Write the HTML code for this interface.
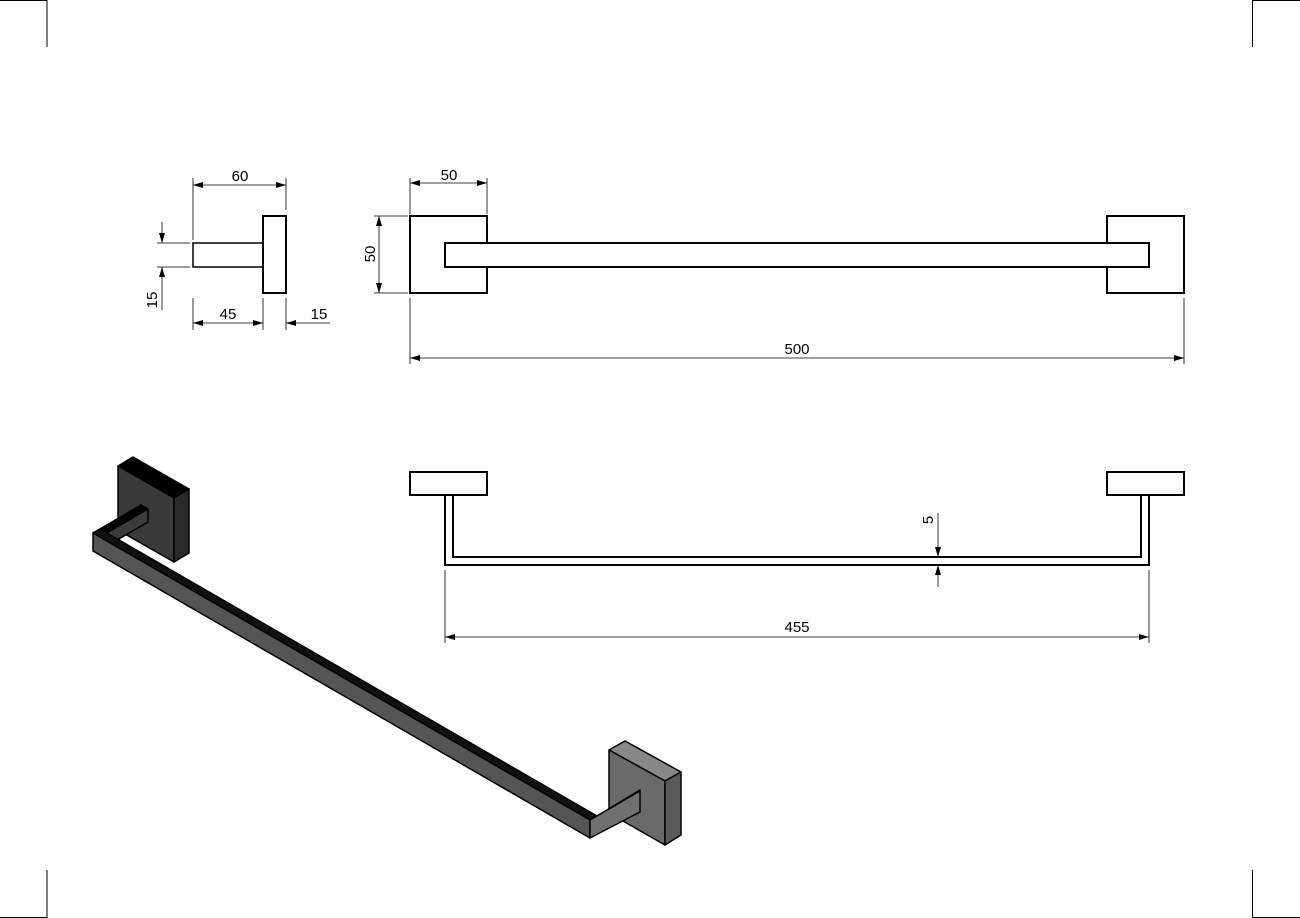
<!DOCTYPE html>
<html><head><style>html,body{margin:0;padding:0;background:#fff}svg{display:block}</style></head>
<body>
<svg width="1300" height="918" viewBox="0 0 1300 918" xmlns="http://www.w3.org/2000/svg" font-family="Liberation Sans, sans-serif">
<defs>
<marker id="a" viewBox="0 0 10 6" refX="10" refY="3" markerWidth="10" markerHeight="6" orient="auto-start-reverse" markerUnits="userSpaceOnUse"><path d="M0,0 L10,3 L0,6 z" fill="#000"/></marker>
</defs>
<g stroke="#000" stroke-width="1" fill="none">
<path d="M0,0.5 H47 M47,0 V47 M1300,0.5 H1252 M1252.5,0 V47 M0,917.5 H47 M47,918 V870 M1300,917.5 H1252 M1252.5,918 V870"/>
</g>
<!-- side view -->
<g stroke="#000" fill="none">
<rect x="193" y="243" width="70" height="24" stroke-width="1.5"/>
<rect x="263" y="216" width="23" height="77" stroke-width="2"/>
<g stroke-width="0.8">
<path d="M193,178 V240 M286,178 V210 M193,298 V330 M263,298 V330 M286,298 V330 M157,243 H190 M157,267 H190"/>
<line x1="193" y1="185" x2="286" y2="185" marker-start="url(#a)" marker-end="url(#a)"/>
<line x1="193" y1="323" x2="263" y2="323" marker-start="url(#a)" marker-end="url(#a)"/>
<line x1="330" y1="323" x2="286" y2="323" marker-end="url(#a)"/>
<line x1="162" y1="222" x2="162" y2="243" marker-end="url(#a)"/>
<line x1="162" y1="310" x2="162" y2="267" marker-end="url(#a)"/>
</g>
</g>
<g font-size="15" fill="#000" text-anchor="middle">
<text x="240" y="181">60</text>
<text x="228" y="319">45</text>
<text x="319" y="319">15</text>
<text transform="translate(157,300) rotate(-90)">15</text>
</g>
<!-- front view -->
<g stroke="#000" fill="none">
<rect x="410" y="216" width="77" height="77" stroke-width="2"/>
<rect x="1107" y="216" width="77" height="77" stroke-width="2"/>
<rect x="445" y="243" width="704" height="24" stroke-width="2" fill="#fff"/>
<g stroke-width="0.8">
<path d="M410,178 V214 M487,178 V214 M374,216 H408 M374,293 H408 M410,298 V364 M1184,298 V364"/>
<line x1="410" y1="183" x2="487" y2="183" marker-start="url(#a)" marker-end="url(#a)"/>
<line x1="379" y1="216" x2="379" y2="293" marker-start="url(#a)" marker-end="url(#a)"/>
<line x1="410" y1="358" x2="1184" y2="358" marker-start="url(#a)" marker-end="url(#a)"/>
</g>
</g>
<g font-size="15" fill="#000" text-anchor="middle">
<text x="449" y="180">50</text>
<text transform="translate(375,254) rotate(-90)">50</text>
<text x="797" y="354">500</text>
</g>
<!-- top view -->
<g stroke="#000" fill="none">
<rect x="410" y="472" width="77" height="23" stroke-width="2"/>
<rect x="1107" y="472" width="77" height="23" stroke-width="2"/>
<path d="M445,495 V565 H1149 V495 M453,495 V557 H1141 V495" stroke-width="2"/>
<g stroke-width="0.8">
<path d="M445,570 V643 M1149,570 V643"/>
<line x1="938" y1="513" x2="938" y2="557" marker-end="url(#a)"/>
<line x1="938" y1="587" x2="938" y2="565" marker-end="url(#a)"/>
<line x1="445" y1="637" x2="1149" y2="637" marker-start="url(#a)" marker-end="url(#a)"/>
</g>
</g>
<g font-size="15" fill="#000" text-anchor="middle">
<text transform="translate(933,520) rotate(-90)">5</text>
<text x="797" y="632">455</text>
</g>
<!-- isometric -->
<g stroke="#000" stroke-width="1.5" stroke-linejoin="round">
<!-- left mount -->
<polygon points="118,466 133,457 189,489 174,498" fill="#000"/>
<polygon points="118,466 174,498 174,562 118,530" fill="#3a3a3a"/>
<polygon points="174,498 189,489 189,553 174,562" fill="#2a2a2a"/>
<!-- left arm -->
<polygon points="93,533 141,505 148,509 100,537" fill="#000"/>
<polygon points="100,537 148,509 148,522 112,543" fill="#3c3c3c"/>
<!-- long bar -->
<polygon points="93,533 100,529 597,816 590,820" fill="#111"/>
<polygon points="93,533 590,820 590,838 93,551" fill="#555"/>
<!-- right mount -->
<polygon points="609,750 625,741 681,772 665,781" fill="#888"/>
<polygon points="609,750 665,781 665,845 609,813" fill="#6a6a6a"/>
<polygon points="665,781 681,772 681,835 665,845" fill="#5a5a5a"/>
<!-- right arm -->
<polygon points="590,820 633,795 640,790 597,816" fill="#777"/>
<polygon points="590,820 640,791 640,812 590,838" fill="#707070"/>
</g>
</svg>
</body></html>
